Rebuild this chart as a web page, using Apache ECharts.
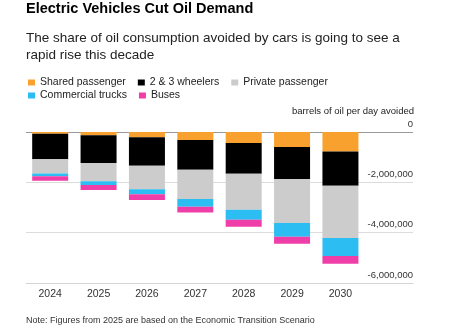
<!DOCTYPE html>
<html>
<head>
<meta charset="utf-8">
<script src="https://cdn.jsdelivr.net/npm/echarts@6/dist/echarts.min.js"></script>
<style>html,body{margin:0;padding:0;background:#fff}#c{width:450px;height:333px}</style>
</head>
<body>
<div id="c"></div>
<script>
var years = ['2024','2025','2026','2027','2028','2029','2030'];
var sharedPassenger = [-70000, -130000, -210000, -320000, -440000, -600000, -770000];
var twoThreeWheelers = [-1010000, -1100000, -1130000, -1180000, -1220000, -1270000, -1370000];
var privatePassenger = [-570000, -730000, -930000, -1160000, -1430000, -1750000, -2070000];
var commercialTrucks = [-106000, -146000, -200000, -310000, -400000, -540000, -720000];
var buses = [-186000, -200000, -230000, -230000, -270000, -280000, -310000];
var yTicks = [-6000000, -4000000, -2000000, 0];

var FONT = '"Liberation Sans", Arial, sans-serif';
var chart = echarts.init(document.getElementById('c'), null, {renderer: 'canvas'});

function bar(name, data, color) {
  return {name: name, type: 'bar', stack: 'total', data: data, barWidth: 36,
    itemStyle: {color: color}, emphasis: {disabled: true}};
}

chart.setOption({
  animation: false,
  backgroundColor: '#fff',
  textStyle: {fontFamily: FONT},
  title: [
    {text: 'Electric Vehicles Cut Oil Demand', left: 26, top: 1, padding: 0,
     textStyle: {fontFamily: FONT, fontSize: 14.5, fontWeight: 'bold', color: '#000'}},
    {text: 'The share of oil consumption avoided by cars is going to see a\nrapid rise this decade', left: 26, top: 30, padding: 0,
     textStyle: {fontFamily: FONT, fontSize: 13.5, fontWeight: 'normal', color: '#222', lineHeight: 17}},
    {text: 'barrels of oil per day avoided', right: 36, top: 106, padding: 0,
     textStyle: {fontFamily: FONT, fontSize: 9.5, fontWeight: 'normal', color: '#222'}},
    {text: 'Note: Figures from 2025 are based on the Economic Transition Scenario', left: 26, top: 316, padding: 0,
     textStyle: {fontFamily: FONT, fontSize: 9, fontWeight: 'normal', color: '#333'}}
  ],
  legend: [
    {data: ['Shared passenger', '2 & 3 wheelers', 'Private passenger'], left: 28, top: 77, padding: 0,
     itemWidth: 7, itemHeight: 6, itemGap: 12, icon: 'rect', selectedMode: false,
     textStyle: {fontFamily: FONT, fontSize: 10.5, color: '#222'}},
    {data: ['Commercial trucks', 'Buses'], left: 28, top: 90, padding: 0,
     itemWidth: 7, itemHeight: 6, itemGap: 12, icon: 'rect', selectedMode: false,
     textStyle: {fontFamily: FONT, fontSize: 10.5, color: '#222'}}
  ],
  grid: {left: 26, right: 37, top: 132, bottom: 50, containLabel: false},
  xAxis: {
    type: 'category',
    data: years.concat(['']),
    axisLine: {onZero: false, lineStyle: {color: '#d4d4d4', width: 1}},
    axisTick: {alignWithLabel: true, length: 4, lineStyle: {color: '#999'},
      interval: function (i) { return i < years.length; }},
    axisLabel: {fontFamily: FONT, fontSize: 10.5, color: '#333', margin: 6, interval: 0}
  },
  yAxis: {
    type: 'value', position: 'right', min: -6000000, max: 0, interval: 2000000,
    axisLine: {show: false}, axisTick: {show: false},
    splitLine: {show: true, lineStyle: {color: ['#dcdcdc', '#dcdcdc', '#dcdcdc', '#9a9a9a'], width: 1}},
    axisLabel: {inside: true, fontFamily: FONT, fontSize: 9.5, color: '#333',
      verticalAlign: 'bottom', padding: [0, 0, 3, 0], margin: 0,
      formatter: function (v) { return v === 0 ? '0' : echarts.format.addCommas(v); }}
  },
  series: [
    bar('Shared passenger', sharedPassenger, '#f9a12e'),
    bar('2 & 3 wheelers', twoThreeWheelers, '#000000'),
    bar('Private passenger', privatePassenger, '#cccccc'),
    bar('Commercial trucks', commercialTrucks, '#2cbdf2'),
    bar('Buses', buses, '#ef3ea8')
  ]
});
</script>
</body>
</html>
